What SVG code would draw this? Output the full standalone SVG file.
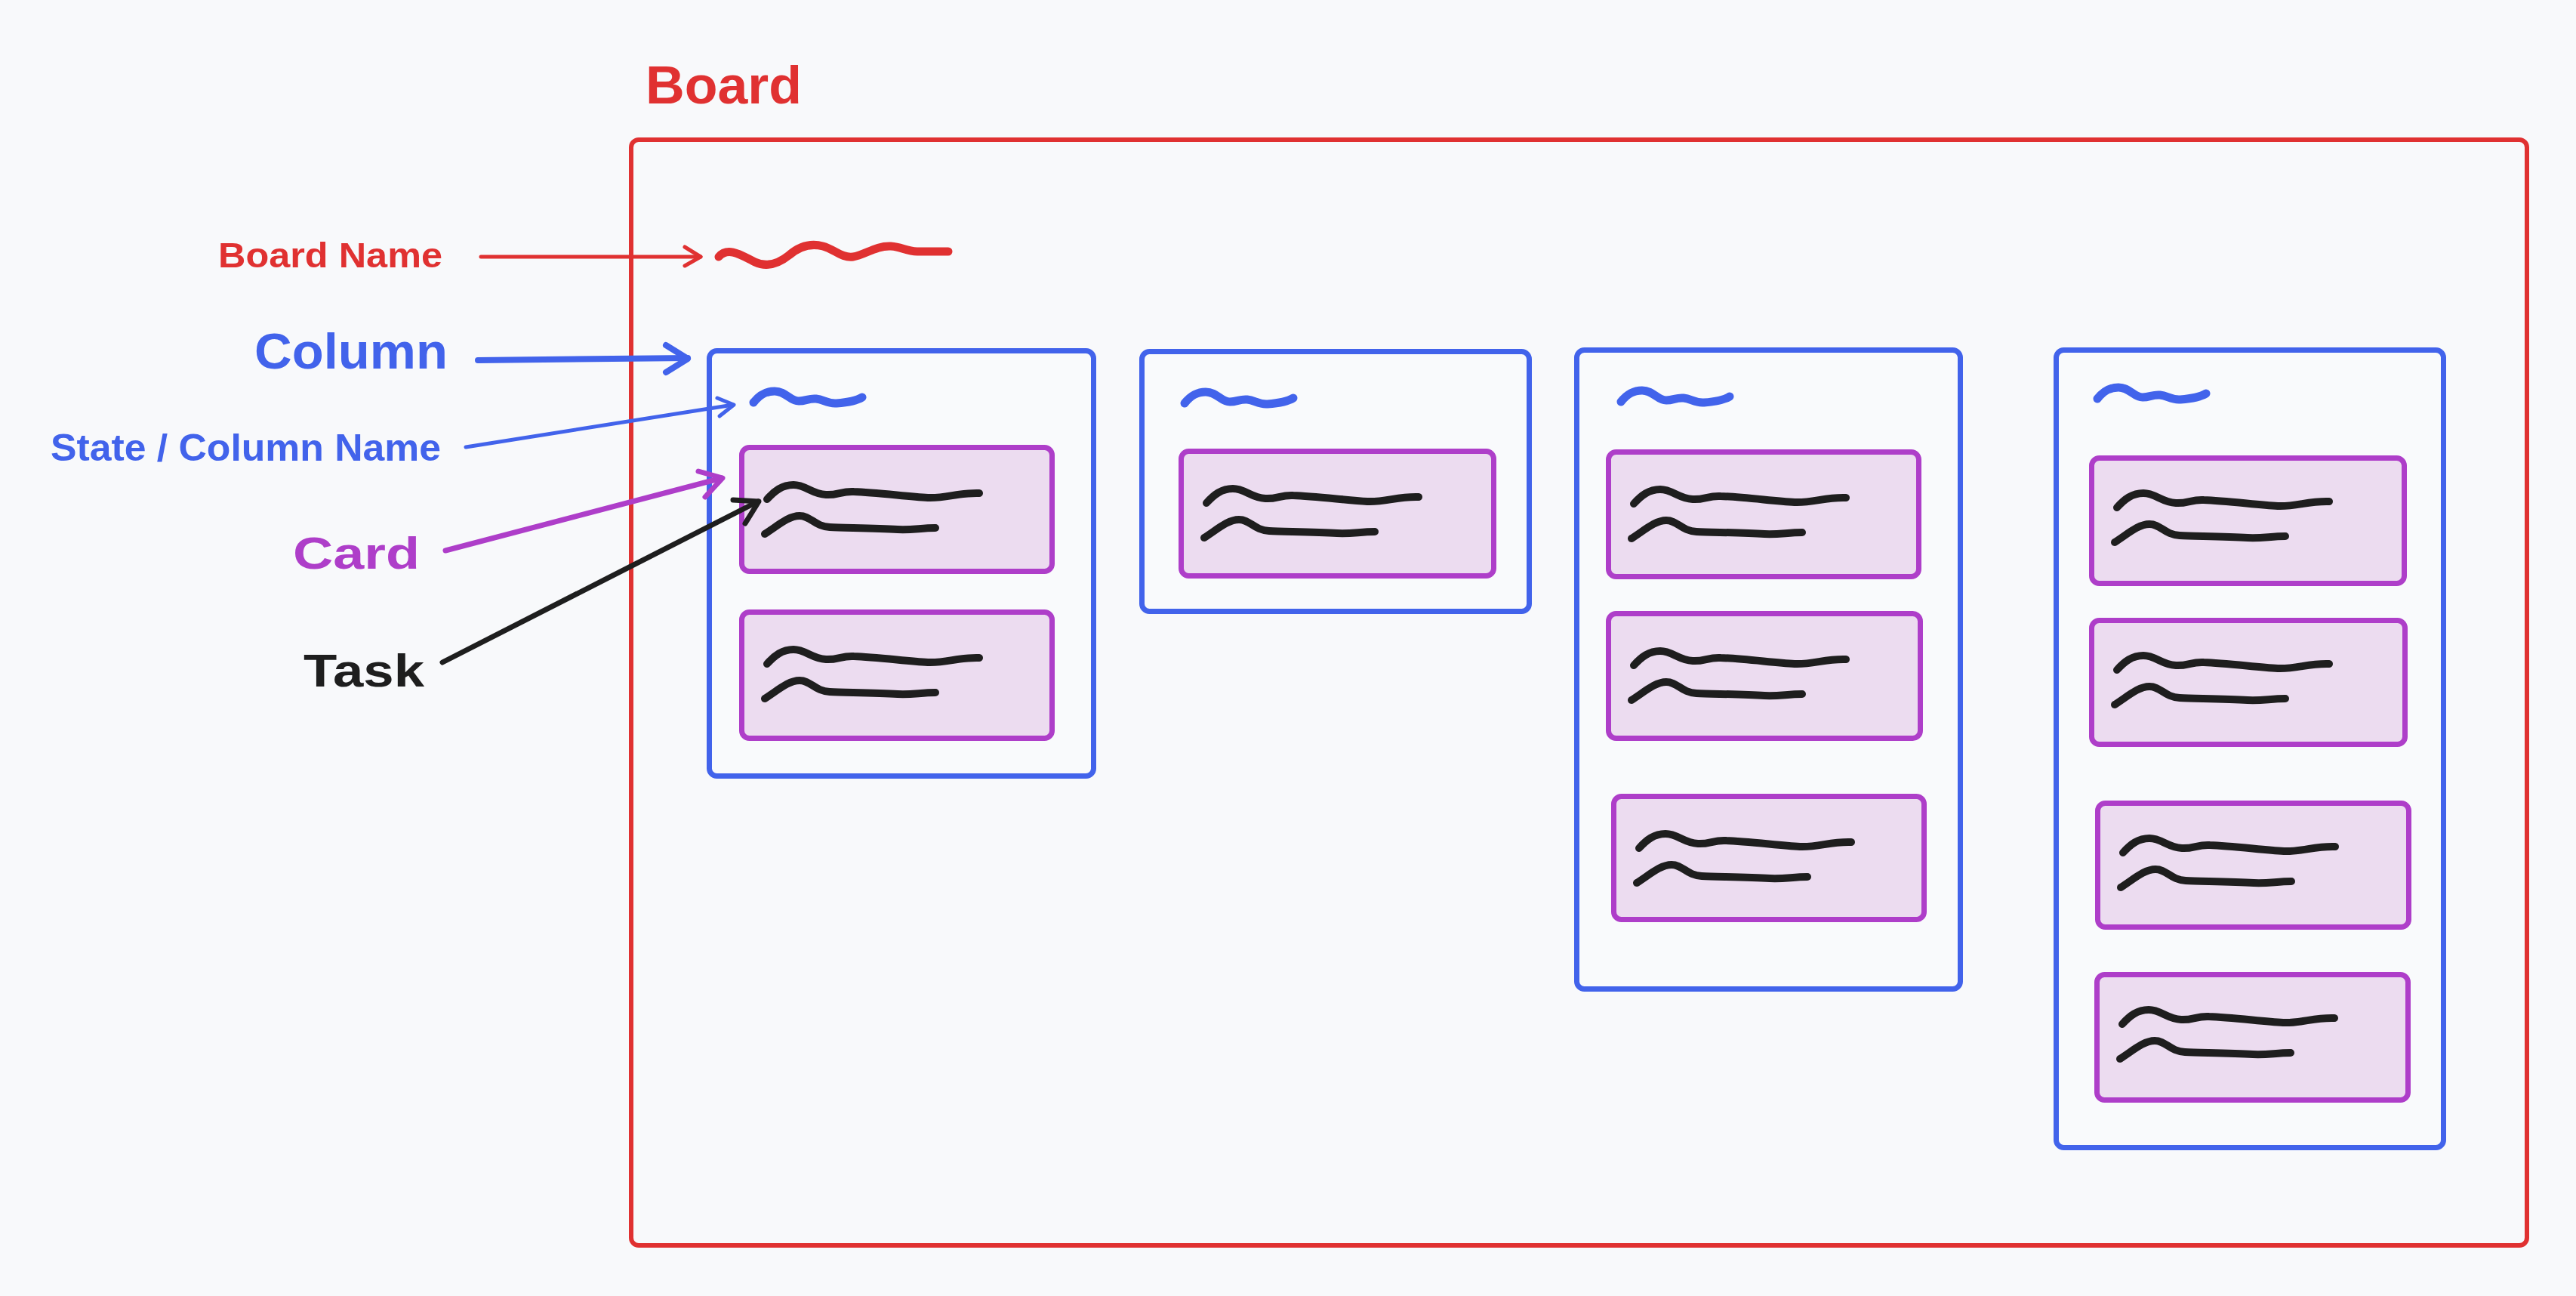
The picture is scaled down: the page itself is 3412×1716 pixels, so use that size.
<svg xmlns="http://www.w3.org/2000/svg" xmlns:xlink="http://www.w3.org/1999/xlink" width="3412" height="1716" viewBox="0 0 3412 1716">
<style>
  .bg{fill:#f8f9fb}
  .board{fill:none;stroke:#e03131;stroke-width:6}
  .col{fill:#f9fafc;stroke:#4263eb;stroke-width:7}
  .card{fill:#ecdcf0;stroke:#ae3ec9;stroke-width:7}
  .task{fill:none;stroke:#1e1e1e;stroke-width:10;stroke-linecap:round;stroke-linejoin:round}
  .cname{fill:none;stroke:#4263eb;stroke-width:11;stroke-linecap:round;stroke-linejoin:round}
  .bname{fill:none;stroke:#e03131;stroke-width:11;stroke-linecap:round;stroke-linejoin:round}
  .lbl{font-family:"Liberation Sans","DejaVu Sans",sans-serif;font-weight:bold}
  .red{fill:#e03131}.blue{fill:#4263eb}.purple{fill:#ae3ec9}.black{fill:#1e1e1e}
  .arr{fill:none;stroke-linecap:round;stroke-linejoin:round}
</style>
<defs>
  <g id="tasks">
    <path class="task" d="M37,72 C47,61 57,53 72,53 C88,53 96,65 115,66 C130,67 136,61 152,62 C180,63 220,68 250,70 C275,71 290,63 318,64"/>
    <path class="task" d="M34,118 C50,108 65,94 80,94 C95,94 100,108 120,109 C140,110 180,110 210,112 C230,113 240,110 260,110"/>
  </g>
  <path id="colname" class="cname" d="M62,72 C70,62 78,57 90,57 C105,57 110,70 122,70 C132,70 135,66 145,67 C155,68 160,74 172,73 C185,72 198,70 206,65"/>
</defs>
<rect class="bg" x="0" y="0" width="3412" height="1716"/>

<g id="board">
  <rect class="board" x="836" y="185" width="2511" height="1464" rx="10"/>
  <text class="lbl red" x="855" y="137" font-size="70" textLength="207" lengthAdjust="spacingAndGlyphs">Board</text>
  <path class="bname" d="M952,340 C965,325 985,340 1000,347 C1015,354 1030,350 1045,338 C1060,325 1075,322 1090,326 C1105,330 1115,342 1130,340 C1145,338 1160,325 1180,326 C1195,327 1200,333 1215,333 L1256,333"/>
</g>

<g id="column1">
  <rect class="col" x="939.5" y="464.5" width="509" height="563" rx="10"/>
  <use xlink:href="#colname" href="#colname" x="936" y="461"/>
  <g id="card1a"><rect class="card" x="982.5" y="592.5" width="411" height="164" rx="10"/><use href="#tasks" xlink:href="#tasks" x="979" y="589"/></g>
  <g id="card1b"><rect class="card" x="982.5" y="810.5" width="411" height="167" rx="10"/><use href="#tasks" xlink:href="#tasks" x="979" y="807"/></g>
</g>

<g id="column2">
  <rect class="col" x="1512.5" y="465.5" width="513" height="344" rx="10"/>
  <use xlink:href="#colname" href="#colname" x="1507" y="462"/>
  <g id="card2a"><rect class="card" x="1564.5" y="597.5" width="414" height="165" rx="10"/><use href="#tasks" xlink:href="#tasks" x="1561" y="594"/></g>
</g>

<g id="column3">
  <rect class="col" x="2088.5" y="463.5" width="508" height="846" rx="10"/>
  <use xlink:href="#colname" href="#colname" x="2085" y="460"/>
  <g id="card3a"><rect class="card" x="2130.5" y="598.5" width="411" height="165" rx="10"/><use href="#tasks" xlink:href="#tasks" x="2127" y="595"/></g>
  <g id="card3b"><rect class="card" x="2130.5" y="812.5" width="413" height="165" rx="10"/><use href="#tasks" xlink:href="#tasks" x="2127" y="809"/></g>
  <g id="card3c"><rect class="card" x="2137.5" y="1054.5" width="411" height="163" rx="10"/><use href="#tasks" xlink:href="#tasks" x="2134" y="1051"/></g>
</g>

<g id="column4">
  <rect class="col" x="2723.5" y="463.5" width="513" height="1056" rx="10"/>
  <use xlink:href="#colname" href="#colname" x="2716" y="456"/>
  <g id="card4a"><rect class="card" x="2770.5" y="606.5" width="414" height="166" rx="10"/><use href="#tasks" xlink:href="#tasks" x="2767" y="600"/></g>
  <g id="card4b"><rect class="card" x="2770.5" y="821.5" width="415" height="164" rx="10"/><use href="#tasks" xlink:href="#tasks" x="2767" y="815"/></g>
  <g id="card4c"><rect class="card" x="2778.5" y="1063.5" width="412" height="164" rx="10"/><use href="#tasks" xlink:href="#tasks" x="2775" y="1057"/></g>
  <g id="card4d"><rect class="card" x="2777.5" y="1290.5" width="412" height="166" rx="10"/><use href="#tasks" xlink:href="#tasks" x="2774" y="1284"/></g>
</g>

<g id="labels">
  <text id="lbl-boardname" class="lbl red" x="289" y="354" font-size="47" textLength="297" lengthAdjust="spacingAndGlyphs">Board Name</text>
  <text id="lbl-column" class="lbl blue" x="337" y="488" font-size="66" textLength="256" lengthAdjust="spacingAndGlyphs">Column</text>
  <text id="lbl-state" class="lbl blue" x="67" y="610" font-size="50" textLength="517" lengthAdjust="spacingAndGlyphs">State / Column Name</text>
  <text id="lbl-card" class="lbl purple" x="388" y="753" font-size="60" textLength="168" lengthAdjust="spacingAndGlyphs">Card</text>
  <text id="lbl-task" class="lbl black" x="402" y="909" font-size="62" textLength="160" lengthAdjust="spacingAndGlyphs">Task</text>
</g>

<g id="connectors">
  <g stroke="#e03131" stroke-width="5" class="arr">
    <path d="M637,340 L928,340"/>
    <path d="M907,327 L928,340 L907,352"/>
  </g>
  <g stroke="#4263eb" stroke-width="8" class="arr">
    <path d="M633,477 L911,474"/>
    <path d="M882,457 L911,475 L882,493"/>
  </g>
  <g stroke="#4263eb" stroke-width="5" class="arr">
    <path d="M617,592 L971,536"/>
    <path d="M950,527 L972,536 L953,551"/>
  </g>
  <g stroke="#ae3ec9" stroke-width="7" class="arr">
    <path d="M590,729 L956,633"/>
    <path d="M925,624 L957,633 L934,658"/>
  </g>
  <g stroke="#1e1e1e" stroke-width="7" class="arr">
    <path d="M586,877 L1004,664"/>
    <path d="M971,662 L1005,664 L987,693"/>
  </g>
</g>
</svg>
